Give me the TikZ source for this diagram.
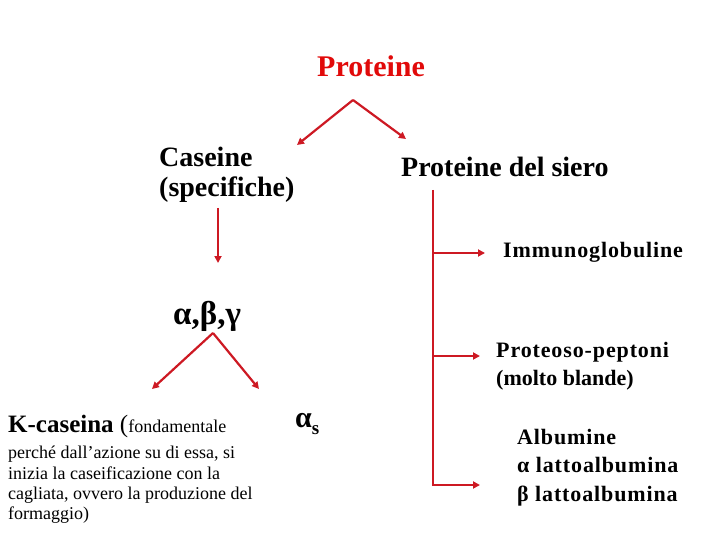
\documentclass[tikz,border=0pt]{standalone}
\usepackage{fontspec}
\setmainfont{Liberation Serif}
\usetikzlibrary{arrows.meta}
\definecolor{pred}{RGB}{225,10,10}
\definecolor{lred}{RGB}{205,25,35}
\begin{document}
\begin{tikzpicture}[x=1pt,y=-1pt,
  conn/.style={draw=lred, line width=2.2pt, -{Triangle[length=7pt,width=7pt]}},
  trunk/.style={draw=lred, line width=2.2pt},
  lbl/.style={inner sep=0pt, anchor=base west, font=\bfseries},
  big/.style={font=\bfseries\fontsize{28}{30}\selectfont},
  mid/.style={font=\bfseries\fontsize{22}{28.5}\selectfont\addfontfeature{LetterSpace=4}},
  small/.style={font=\fontsize{18}{20.3}\selectfont}
]
\useasboundingbox (0,0) rectangle (720,540);

% texts
\node[lbl, text=pred, font=\bfseries\fontsize{30}{36}\selectfont] (prot) at (317,77) {Proteine};
\node[inner sep=0pt, anchor=north west, align=left, big] (cas) at (159,147) {Caseine\\(specifiche)};
\node[lbl, big] (siero) at (401,177) {Proteine del siero};
\node[lbl, mid] (immu) at (503,258) {Immunoglobuline};
\node[inner sep=0pt, anchor=north west, align=left, mid] (pept) at (496,342) {Proteoso-peptoni\\\addfontfeature{LetterSpace=0}(molto blande)};
\node[inner sep=0pt, anchor=north west, align=left, mid] (alb) at (517,429) {Albumine\\α lattoalbumina\\β lattoalbumina};
\node[lbl, font=\bfseries\fontsize{33}{36}\selectfont] (abg) at (173,324) {α,β,γ};
\node[inner sep=0pt, anchor=base west, font=\mdseries] (kcas) at (8,432) {{\bfseries\fontsize{25}{28}\selectfont K-caseina }{\mdseries\fontsize{25}{28}\selectfont(}{\mdseries\fontsize{18}{20}\selectfont fondamentale}};
\node[inner sep=0pt, anchor=north west, align=left, small] (kdesc) at (8,446) {perché dall’azione su di essa, si\\inizia la caseificazione con la\\cagliata, ovvero la produzione del\\formaggio)};
\node[lbl] (as) at (295,427) {{\bfseries\fontsize{30}{34}\selectfont α}\raisebox{-7pt}{\bfseries\fontsize{19}{22}\selectfont s}};

% connector points
\coordinate (ap1) at (353,100);
\coordinate (t1l) at (297,145);
\coordinate (t1r) at (406,139);
\coordinate (vc0) at (218,208);
\coordinate (vc1) at (218,263);
\coordinate (ap2) at (213,333);
\coordinate (t2l) at (152,389);
\coordinate (t2r) at (259,389);
\coordinate (s0) at (433,190);
\coordinate (b1) at (433,253);
\coordinate (b2) at (433,356);
\coordinate (b3) at (433,485);
\coordinate (e1) at (485,253);
\coordinate (e2) at (480,356);
\coordinate (e3) at (480,485);

\draw[conn] (ap1) -- (t1l);
\draw[conn] (ap1) -- (t1r);
\draw[conn] (vc0) -- (vc1);
\draw[conn] (ap2) -- (t2l);
\draw[conn] (ap2) -- (t2r);
\draw[trunk] (s0) -- (b3);
\draw[conn] (b1) -- (e1);
\draw[conn] (b2) -- (e2);
\draw[conn] ([xshift=-1.1pt]b3) -- (e3);
\end{tikzpicture}
\end{document}
